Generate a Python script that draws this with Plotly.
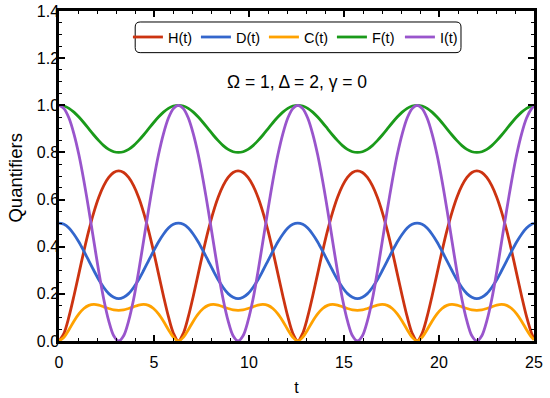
import plotly.graph_objects as go

# time grid (step pi/12)
t = [0.000, 0.262, 0.524, 0.785, 1.047, 1.309, 1.571, 1.833, 2.094, 2.356, 2.618, 2.880,
     3.142, 3.403, 3.665, 3.927, 4.189, 4.451, 4.712, 4.974, 5.236, 5.498, 5.760, 6.021,
     6.283, 6.545, 6.807, 7.069, 7.330, 7.592, 7.854, 8.116, 8.378, 8.639, 8.901, 9.163,
     9.425, 9.687, 9.948, 10.210, 10.472, 10.734, 10.996, 11.257, 11.519, 11.781, 12.043, 12.305,
     12.566, 12.828, 13.090, 13.352, 13.614, 13.875, 14.137, 14.399, 14.661, 14.923, 15.184, 15.446,
     15.708, 15.970, 16.232, 16.493, 16.755, 17.017, 17.279, 17.541, 17.802, 18.064, 18.326, 18.588,
     18.850, 19.111, 19.373, 19.635, 19.897, 20.159, 20.420, 20.682, 20.944, 21.206, 21.468, 21.729,
     21.991, 22.253, 22.515, 22.777, 23.038, 23.300, 23.562, 23.824, 24.086, 24.347, 24.609, 24.871,
     25.000]

H = [0.000, 0.033, 0.103, 0.191, 0.286, 0.381, 0.469, 0.546, 0.610, 0.659, 0.694, 0.715,
     0.722, 0.715, 0.694, 0.659, 0.610, 0.546, 0.469, 0.381, 0.286, 0.191, 0.103, 0.033,
     0.000, 0.033, 0.103, 0.191, 0.286, 0.381, 0.469, 0.546, 0.610, 0.659, 0.694, 0.715,
     0.722, 0.715, 0.694, 0.659, 0.610, 0.546, 0.469, 0.381, 0.286, 0.191, 0.103, 0.033,
     0.000, 0.033, 0.103, 0.191, 0.286, 0.381, 0.469, 0.546, 0.610, 0.659, 0.694, 0.715,
     0.722, 0.715, 0.694, 0.659, 0.610, 0.546, 0.469, 0.381, 0.286, 0.191, 0.103, 0.033,
     0.000, 0.033, 0.103, 0.191, 0.286, 0.381, 0.469, 0.546, 0.610, 0.659, 0.694, 0.715,
     0.722, 0.715, 0.694, 0.659, 0.610, 0.546, 0.469, 0.381, 0.286, 0.191, 0.103, 0.033,
     0.010]

D = [0.500, 0.495, 0.479, 0.453, 0.420, 0.381, 0.340, 0.299, 0.260, 0.227, 0.201, 0.186,
     0.180, 0.186, 0.201, 0.227, 0.260, 0.299, 0.340, 0.381, 0.420, 0.453, 0.479, 0.495,
     0.500, 0.495, 0.479, 0.453, 0.420, 0.381, 0.340, 0.299, 0.260, 0.227, 0.201, 0.186,
     0.180, 0.186, 0.201, 0.227, 0.260, 0.299, 0.340, 0.381, 0.420, 0.453, 0.479, 0.495,
     0.500, 0.495, 0.479, 0.453, 0.420, 0.381, 0.340, 0.299, 0.260, 0.227, 0.201, 0.186,
     0.180, 0.186, 0.201, 0.227, 0.260, 0.299, 0.340, 0.381, 0.420, 0.453, 0.479, 0.495,
     0.500, 0.495, 0.479, 0.453, 0.420, 0.381, 0.340, 0.299, 0.260, 0.227, 0.201, 0.186,
     0.180, 0.186, 0.201, 0.227, 0.260, 0.299, 0.340, 0.381, 0.420, 0.453, 0.479, 0.495,
     0.499]

C = [0.000, 0.016, 0.048, 0.084, 0.115, 0.138, 0.151, 0.155, 0.152, 0.145, 0.138, 0.132,
     0.130, 0.132, 0.138, 0.145, 0.152, 0.155, 0.151, 0.138, 0.115, 0.084, 0.048, 0.016,
     0.000, 0.016, 0.048, 0.084, 0.115, 0.138, 0.151, 0.155, 0.152, 0.145, 0.138, 0.132,
     0.130, 0.132, 0.138, 0.145, 0.152, 0.155, 0.151, 0.138, 0.115, 0.084, 0.048, 0.016,
     0.000, 0.016, 0.048, 0.084, 0.115, 0.138, 0.151, 0.155, 0.152, 0.145, 0.138, 0.132,
     0.130, 0.132, 0.138, 0.145, 0.152, 0.155, 0.151, 0.138, 0.115, 0.084, 0.048, 0.016,
     0.000, 0.016, 0.048, 0.084, 0.115, 0.138, 0.151, 0.155, 0.152, 0.145, 0.138, 0.132,
     0.130, 0.132, 0.138, 0.145, 0.152, 0.155, 0.151, 0.138, 0.115, 0.084, 0.048, 0.016,
     0.005]

F = [1.000, 0.997, 0.987, 0.971, 0.950, 0.926, 0.900, 0.874, 0.850, 0.829, 0.813, 0.803,
     0.800, 0.803, 0.813, 0.829, 0.850, 0.874, 0.900, 0.926, 0.950, 0.971, 0.987, 0.997,
     1.000, 0.997, 0.987, 0.971, 0.950, 0.926, 0.900, 0.874, 0.850, 0.829, 0.813, 0.803,
     0.800, 0.803, 0.813, 0.829, 0.850, 0.874, 0.900, 0.926, 0.950, 0.971, 0.987, 0.997,
     1.000, 0.997, 0.987, 0.971, 0.950, 0.926, 0.900, 0.874, 0.850, 0.829, 0.813, 0.803,
     0.800, 0.803, 0.813, 0.829, 0.850, 0.874, 0.900, 0.926, 0.950, 0.971, 0.987, 0.997,
     1.000, 0.997, 0.987, 0.971, 0.950, 0.926, 0.900, 0.874, 0.850, 0.829, 0.813, 0.803,
     0.800, 0.803, 0.813, 0.829, 0.850, 0.874, 0.900, 0.926, 0.950, 0.971, 0.987, 0.997,
     0.999]

I = [1.000, 0.986, 0.946, 0.879, 0.790, 0.680, 0.556, 0.424, 0.294, 0.177, 0.085, 0.022,
     0.000, 0.022, 0.085, 0.177, 0.294, 0.424, 0.556, 0.680, 0.790, 0.879, 0.946, 0.986,
     1.000, 0.986, 0.946, 0.879, 0.790, 0.680, 0.556, 0.424, 0.294, 0.177, 0.085, 0.022,
     0.000, 0.022, 0.085, 0.177, 0.294, 0.424, 0.556, 0.680, 0.790, 0.879, 0.946, 0.986,
     1.000, 0.986, 0.946, 0.879, 0.790, 0.680, 0.556, 0.424, 0.294, 0.177, 0.085, 0.022,
     0.000, 0.022, 0.085, 0.177, 0.294, 0.424, 0.556, 0.680, 0.790, 0.879, 0.946, 0.986,
     1.000, 0.986, 0.946, 0.879, 0.790, 0.680, 0.556, 0.424, 0.294, 0.177, 0.085, 0.022,
     0.000, 0.022, 0.085, 0.177, 0.294, 0.424, 0.556, 0.680, 0.790, 0.879, 0.946, 0.986,
     0.996]

names = ["H(t)", "D(t)", "C(t)", "F(t)", "I(t)"]
colors = ["#CC3311", "#3366CC", "#FFA200", "#1A9A1A", "#9955CC"]
x_ticks = [0, 5, 10, 15, 20, 25]
y_ticks = [0.0, 0.2, 0.4, 0.6, 0.8, 1.0, 1.2, 1.4]
y_ticktext = ["0.0", "0.2", "0.4", "0.6", "0.8", "1.0", "1.2", "1.4"]
param_text = "Ω = 1, Δ = 2, γ = 0"
y_title = "Quantifiers"
x_title = "t"

FONT = "Liberation Sans, Arial, sans-serif"

fig = go.Figure()
for name, ys, col in zip(names, [H, D, C, F, I], colors):
    fig.add_trace(go.Scatter(
        x=t, y=ys, name=name, mode="lines", cliponaxis=False,
        line=dict(color=col, width=2.8, shape="spline", smoothing=0.9)))

# rounded legend frame
x0, x1, y0, y1 = 0.1604, 0.8463, 0.8738, 0.9667
rx, ry = 0.0105, 0.0151
path = (f"M {x0+rx},{y1} L {x1-rx},{y1} Q {x1},{y1} {x1},{y1-ry} "
        f"L {x1},{y0+ry} Q {x1},{y0} {x1-rx},{y0} L {x0+rx},{y0} "
        f"Q {x0},{y0} {x0},{y0+ry} L {x0},{y1-ry} Q {x0},{y1} {x0+rx},{y1} Z")
fig.add_shape(type="path", path=path, xref="paper", yref="paper",
              line=dict(color="black", width=1), fillcolor="white", layer="below")

fig.add_annotation(text=param_text, xref="paper", yref="paper", x=0.502, y=0.786,
                   xanchor="center", yanchor="middle",
                   showarrow=False, font=dict(family=FONT, size=17.5, color="black"))
fig.add_annotation(text=y_title, xref="paper", yref="paper", x=-0.0926, y=0.4924,
                   xanchor="center", yanchor="middle", textangle=-90,
                   showarrow=False, font=dict(family=FONT, size=18.5, color="black"))

fig.update_layout(
    width=550, height=398, autosize=False,
    margin=dict(l=59, r=16, t=11, b=57, pad=0),
    paper_bgcolor="white", plot_bgcolor="white",
    font=dict(family=FONT, size=14, color="black"),
    showlegend=True,
    legend=dict(orientation="h", x=0.503, xanchor="center", y=0.921, yanchor="middle",
                bgcolor="rgba(0,0,0,0)", borderwidth=0, font=dict(family=FONT, size=14.5),
                itemwidth=30, entrywidth=23, traceorder="normal"),
)
fig.update_xaxes(range=[0, 25], tickvals=x_ticks, ticks="inside", ticklen=6, tickwidth=1.5,
                 tickcolor="black", showline=True, linewidth=2.5, linecolor="black",
                 mirror="allticks", showgrid=False, zeroline=False, automargin=False,
                 ticklabelstandoff=5,
                 minor=dict(ticks="inside", dtick=1, ticklen=3, tickwidth=1, tickcolor="black"),
                 tickfont=dict(family=FONT, size=16),
                 title=dict(text=x_title, standoff=12, font=dict(family=FONT, size=16)))
fig.update_yaxes(range=[0, 1.4], tickvals=y_ticks, ticktext=y_ticktext, ticks="inside",
                 ticklen=6, tickwidth=1.5, tickcolor="black", showline=True, linewidth=2.5,
                 linecolor="black", mirror="allticks", showgrid=False, zeroline=False,
                 automargin=False, ticklabelstandoff=-6,
                 minor=dict(ticks="inside", dtick=0.05, ticklen=3, tickwidth=1, tickcolor="black"),
                 tickfont=dict(family=FONT, size=16))

fig.write_html("out.html", config={"displayModeBar": False},
               post_script="document.body.style.margin='0px';document.body.style.overflow='hidden';")
